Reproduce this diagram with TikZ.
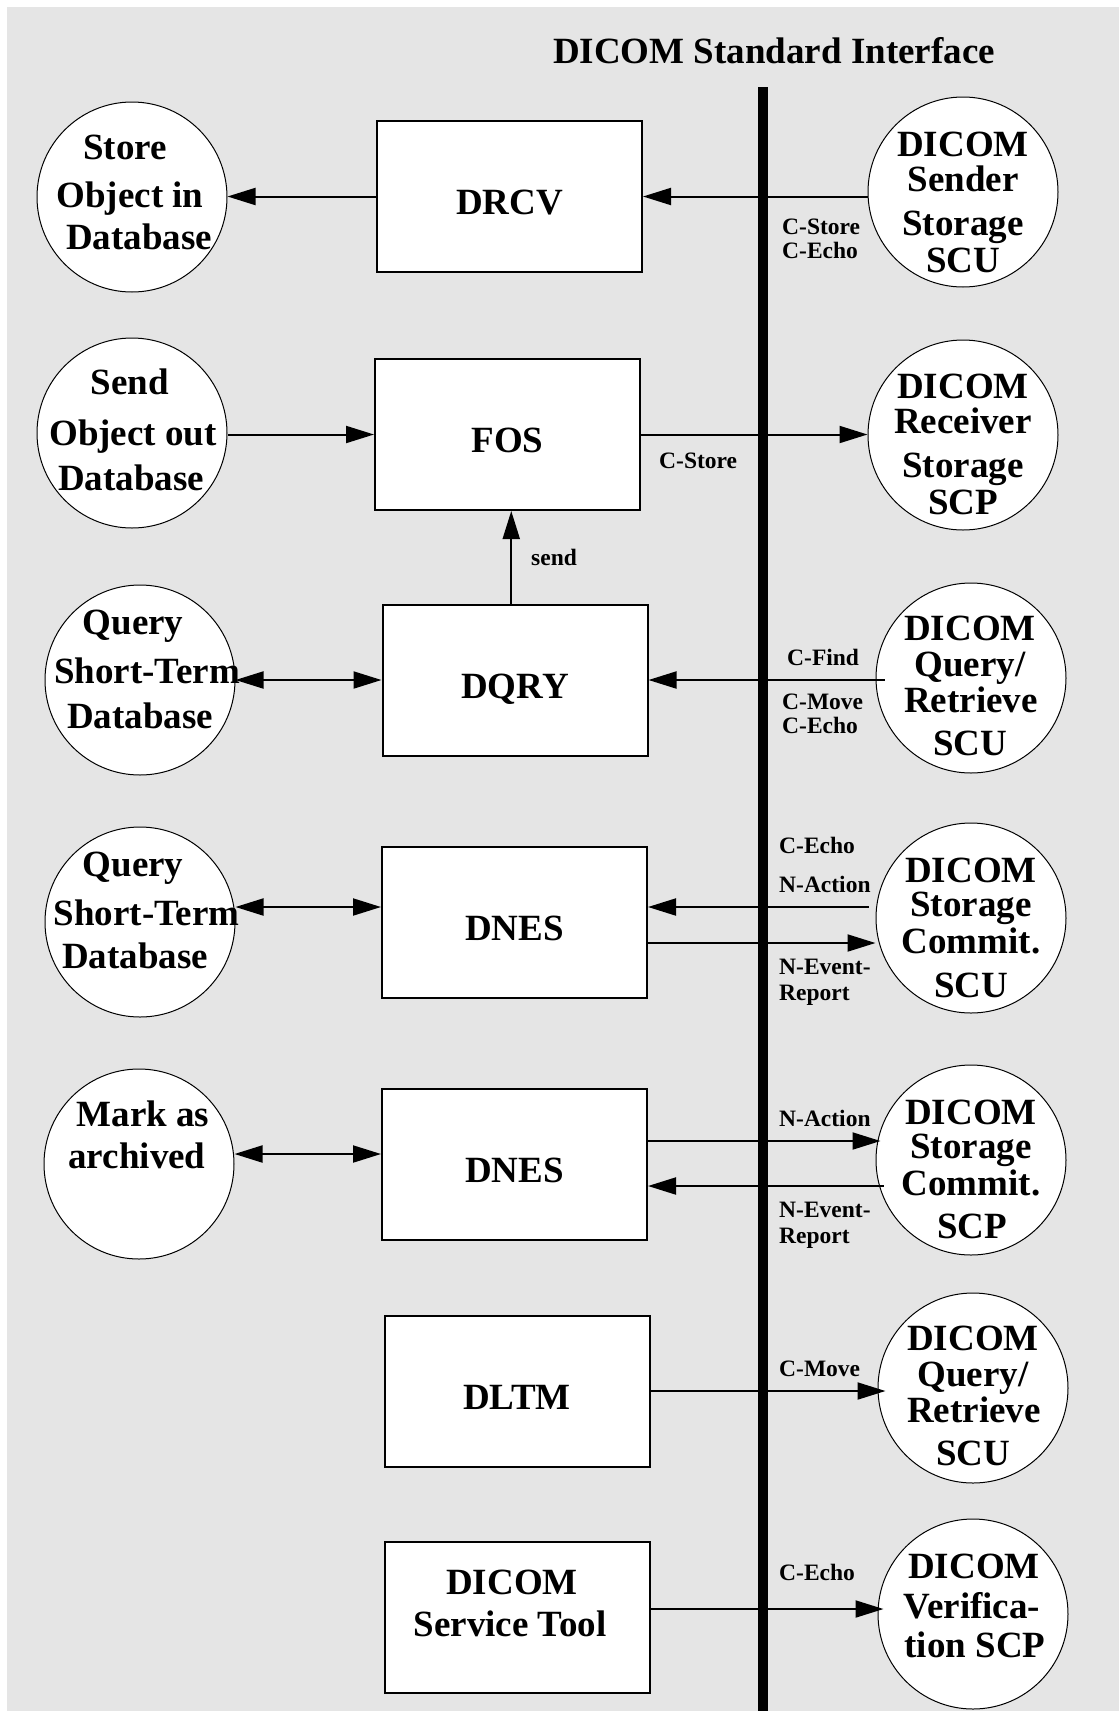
\documentclass[tikz,border=0pt]{standalone}
\usepackage{fontspec}
\setmainfont{Liberation Serif}
\usetikzlibrary{arrows.meta,calc}
\definecolor{panel}{RGB}{229,229,229}
% one line of large bold text, centred on its baseline point
\newcommand\tline[4]{\node[big] (#1) at (#2,#3) {#4};}
% one small bold label, starting at its baseline point
\newcommand\slabel[4]{\node[small] (#1) at (#2,#3) {#4};}
\begin{document}
\begin{tikzpicture}[x=1pt,y=-1pt,
  box/.style={draw,line width=2pt,fill=white,minimum width=265pt,minimum height=151pt,
    inner sep=0pt,font=\fontsize{37}{40}\selectfont\bfseries,text height=36pt,text depth=0pt},
  disc/.style={circle,draw,line width=1pt,fill=white,minimum size=190pt,inner sep=0pt},
  big/.style={font=\fontsize{37}{40}\selectfont\bfseries,inner sep=0pt,anchor=base},
  small/.style={font=\fontsize{23.5}{26}\selectfont\bfseries,inner sep=0pt,anchor=base west},
  tip/.tip={Triangle[length=28pt,width=17pt]},
  arr/.style={line width=2pt,-tip},
  darr/.style={line width=2pt,tip-tip},
]
\useasboundingbox (0,0) rectangle (1119,1711);
\fill[white] (0,0) rectangle (1119,1711);
\fill[panel] (7,7) rectangle (1119,1711);

% interface bar and its heading
\coordinate (bartop) at (763,87);
\coordinate (barend) at (763,1711);
\draw[line width=10pt] (bartop) -- (barend);
\tline{title}{774}{63}{DICOM Standard Interface}

% application boxes
\node[box] (drcv)  at (509.5,196.5) {DRCV};
\node[box] (fos)   at (507.5,434.5) {FOS};
\node[box] (dqry)  at (515,680)     {DQRY};
\node[box] (dnes1) at (514.5,922)   {DNES};
\node[box] (dnes2) at (514.5,1164)  {DNES};
\node[box] (dltm)  at (517,1391)    {DLTM};
\node[box] (tool)  at (517.5,1617.5) {};

% local functions (left)
\node[disc] (store)  at (132,197)  {};
\node[disc] (send)   at (132,433)  {};
\node[disc] (query1) at (140,680)  {};
\node[disc] (query2) at (140,922)  {};
\node[disc] (mark)   at (139,1164) {};

% remote DICOM peers (right)
\node[disc] (sender)   at (963,192)  {};
\node[disc] (receiver) at (963,435)  {};
\node[disc] (qr1)      at (971,678)  {};
\node[disc] (sc1)      at (971,918)  {};
\node[disc] (sc2)      at (971,1160) {};
\node[disc] (qr2)      at (973,1388) {};
\node[disc] (verif)    at (973,1614) {};

% connectors
\draw[arr] (sender.west |- drcv.east) -- (drcv.east);
\draw[arr] (drcv.west) -- (store.east |- drcv.west);
\draw[arr] (send.east |- fos.west) -- (fos.west);
\draw[arr] (fos.east) -- (receiver.west |- fos.east);
\coordinate (sendx) at ($(dqry.north)!0.5!(fos.south)$);
\draw[arr] (sendx |- dqry.north) -- (sendx |- fos.south);
\draw[arr] ($(qr1.west |- dqry.east)+(9,0)$) -- (dqry.east);
\draw[darr] (query1.east |- dqry.west) -- (dqry.west);

\coordinate (n1a) at ($(dnes1.east)+(0,-15)$);
\coordinate (n1b) at ($(dnes1.east)+(0,21)$);
\coordinate (n1c) at ($(dnes1.west)+(0,-15)$);
\draw[arr] ($(n1a -| sc1.west)+(-7,0)$) -- (n1a);
\draw[arr] (n1b) -- (n1b -| sc1.west);
\draw[darr] (n1c -| query2.east) -- (n1c);

\coordinate (n2a) at ($(dnes2.east)+(0,-23)$);
\coordinate (n2b) at ($(dnes2.east)+(0,22)$);
\coordinate (n2c) at ($(dnes2.west)+(0,-10)$);
\draw[arr] (n2a) -- ($(n2a -| sc2.west)+(5,0)$);
\draw[arr] ($(n2b -| sc2.west)+(8,0)$) -- (n2b);
\draw[darr] (n2c -| mark.east) -- (n2c);

\draw[arr] (dltm.east) -- ($(qr2.west |- dltm.east)+(8,0)$);
\coordinate (ta) at ($(tool.east)+(0,-8.5)$);
\draw[arr] (ta) -- ($(ta -| verif.west)+(6,0)$);

% circle texts
\tline{st1}{125}{159}{Store}
\tline{st2}{130}{207}{Object in}
\tline{st3}{139}{249}{Database}

\tline{sd1}{130}{394}{Send}
\tline{sd2}{133}{445}{Object out}
\tline{sd3}{131}{490}{Database}

\tline{qa1}{133}{634}{Query}
\tline{qa2}{147}{683}{Short-Term}
\tline{qa3}{140}{728}{Database}

\tline{qb1}{133}{876}{Query}
\tline{qb2}{146.5}{925}{Short-Term}
\tline{qb3}{135}{968}{Database}

\tline{mk1}{143}{1126}{Mark as}
\tline{mk2}{137}{1168}{archived}

\tline{se1}{963}{156}{DICOM}
\tline{se2}{963}{191}{Sender}
\tline{se3}{963}{235}{Storage}
\tline{se4}{963}{272}{SCU}

\tline{re1}{963}{398}{DICOM}
\tline{re2}{963}{433}{Receiver}
\tline{re3}{963}{477}{Storage}
\tline{re4}{963}{514}{SCP}

\tline{qra1}{970}{640}{DICOM}
\tline{qra2}{970}{676}{Query/}
\tline{qra3}{971}{712}{Retrieve}
\tline{qra4}{970}{755}{SCU}

\tline{sca1}{971}{882}{DICOM}
\tline{sca2}{971}{916}{Storage}
\tline{sca3}{971}{953}{Commit.}
\tline{sca4}{971}{997}{SCU}

\tline{scb1}{971}{1124}{DICOM}
\tline{scb2}{971}{1158}{Storage}
\tline{scb3}{971}{1195}{Commit.}
\tline{scb4}{972}{1238}{SCP}

\tline{qrb1}{973}{1350}{DICOM}
\tline{qrb2}{973}{1386}{Query/}
\tline{qrb3}{974}{1422}{Retrieve}
\tline{qrb4}{973}{1465}{SCU}

\tline{vf1}{974}{1578}{DICOM}
\tline{vf2}{972}{1618}{Verifica-}
\tline{vf3}{975}{1657}{tion SCP}

\tline{tl1}{512}{1594}{DICOM}
\tline{tl2}{510}{1636}{Service Tool}

% service labels
\slabel{cs1}{782}{234}{C-Store}
\slabel{ce1}{782}{258}{C-Echo}
\slabel{cs2}{659}{468}{C-Store}
\slabel{sn}{531}{565}{send}
\slabel{cf}{787}{665}{C-Find}
\slabel{cm1}{782}{709}{C-Move}
\slabel{ce2}{782}{733}{C-Echo}
\slabel{ce3}{779}{853}{C-Echo}
\slabel{na1}{779}{892}{N-Action}
\slabel{ne1}{779}{974}{N-Event-}
\slabel{rp1}{779}{1000}{Report}
\slabel{na2}{779}{1126}{N-Action}
\slabel{ne2}{779}{1217}{N-Event-}
\slabel{rp2}{779}{1243}{Report}
\slabel{cm2}{779}{1376}{C-Move}
\slabel{ce4}{779}{1580}{C-Echo}
\end{tikzpicture}
\end{document}
